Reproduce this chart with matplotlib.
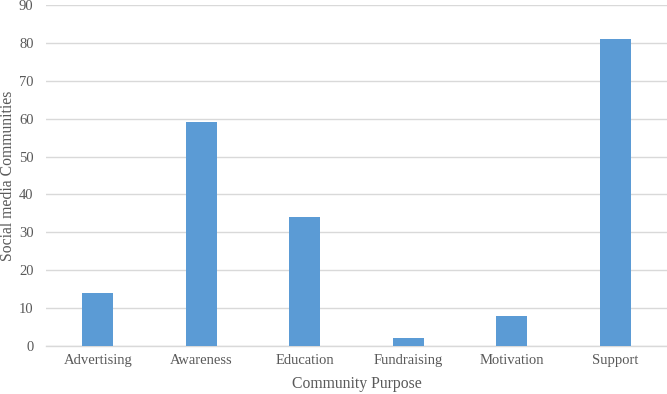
import matplotlib
matplotlib.use("Agg")
import matplotlib.pyplot as plt
import numpy as np

categories = ["Advertising", "Awareness", "Education", "Fundraising", "Motivation", "Support"]
values = [14, 59, 34, 2, 8, 81]
yticks = list(range(0, 91, 10))

plt.rcParams['font.family'] = ['Liberation Serif', 'DejaVu Serif']
text_color = '#595959'
grid_color = '#D9D9D9'
bar_color = '#5B9BD5'

fig = plt.figure(figsize=(6.67, 3.94), dpi=100)
ax = fig.add_axes([46/667, 48/394, 621/667, 341/394])

x = np.arange(len(categories))
ax.bar(x, values, width=0.3, color=bar_color, zorder=3)

ax.set_xlim(-0.5, len(categories) - 0.5)
ax.set_ylim(0, 90)
ax.set_yticks(yticks)
ax.set_xticks(x)
ax.set_xticklabels(categories)
ax.yaxis.grid(True, color=grid_color, linewidth=1.0, zorder=0)
ax.set_axisbelow(True)
for s in ['top', 'right', 'left']:
    ax.spines[s].set_visible(False)
ax.spines['bottom'].set_color(grid_color)
ax.spines['bottom'].set_linewidth(1.0)
ax.tick_params(axis='both', length=0, labelsize=10.5, colors=text_color, pad=6)
ax.tick_params(axis='y', pad=9)
ax.set_xlabel("Community Purpose", fontsize=11.3, color=text_color, labelpad=6)
fig.text(8/667, 1 - 176/394, "Social media Communities", rotation=90,
         ha='center', va='center', fontsize=11.3, color=text_color)

fig.savefig("out.png", dpi=100)
